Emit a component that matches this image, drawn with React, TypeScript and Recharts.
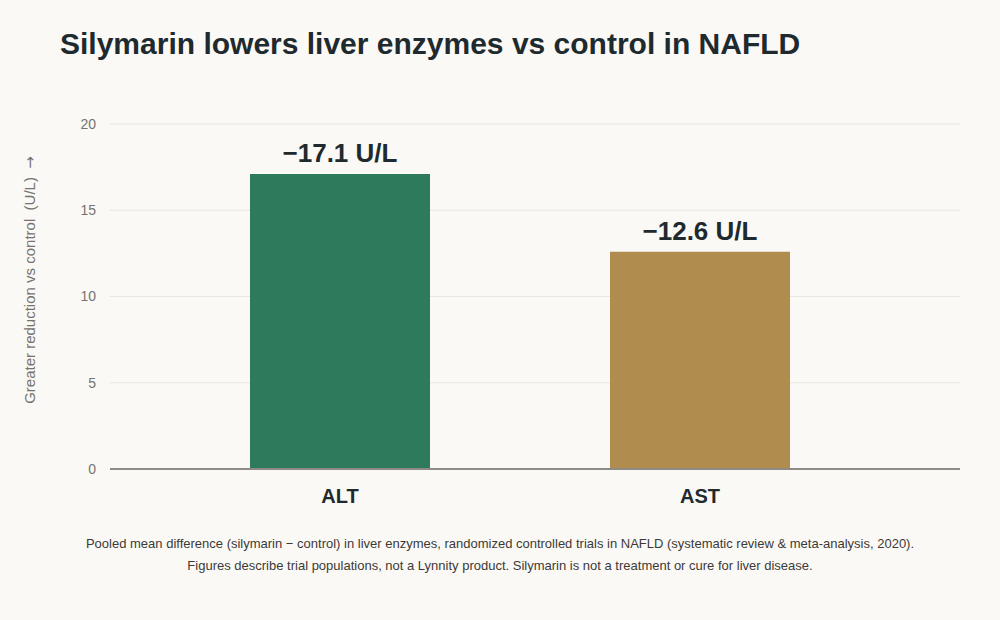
import React from 'react';
import { BarChart, Bar, XAxis, YAxis, CartesianGrid, Cell, LabelList } from 'recharts';

const enzymes = ['ALT', 'AST'];
const reductions = [17.1, 12.6];
const barColors = ['#2e7a5c', '#b08d4e'];
const yTicks = [0, 5, 10, 15, 20];

const chartData = enzymes.map((name, i) => ({ name, value: reductions[i] }));

const textDark = '#1f2a2e';
const tickGray = '#77736e';

const App: React.FC = () => {
  return (
    <div
      style={{
        position: 'fixed',
        top: 0,
        left: 0,
        width: 1000,
        height: 620,
        background: '#faf9f6',
        fontFamily: '"Liberation Sans", Arial, sans-serif',
      }}
    >
      <div
        style={{
          position: 'absolute',
          left: 60,
          top: 27,
          fontSize: 30,
          fontWeight: 700,
          color: textDark,
        }}
      >
        Silymarin lowers liver enzymes vs control in NAFLD
      </div>
      <div style={{ position: 'absolute', left: 0, top: 0 }}>
        <BarChart
          width={1000}
          height={620}
          data={chartData}
          margin={{ top: 124, right: 40, bottom: 121, left: 60 }}
        >
          <CartesianGrid vertical={false} stroke="#e9e6df" />
          <XAxis
            dataKey="name"
            padding={{ left: 50, right: 80 }}
            tickLine={false}
            axisLine={{ stroke: '#8f8a82', strokeWidth: 2 }}
            tick={{ fill: textDark, fontSize: 20, fontWeight: 700 }}
            dy={12}
          />
          <YAxis
            width={50}
            domain={[0, 20]}
            ticks={yTicks}
            tickLine={false}
            axisLine={false}
            tick={{ fill: tickGray, fontSize: 14 }}
            dx={-6}
          />
          <Bar dataKey="value" barSize={180} isAnimationActive={false}>
            {chartData.map((d, i) => (
              <Cell key={d.name} fill={barColors[i]} />
            ))}
            <LabelList
              dataKey="value"
              position="top"
              offset={12}
              formatter={(v: any) => `\u2212${v} U/L`}
              style={{ fill: textDark, fontSize: 26, fontWeight: 700 }}
            />
          </Bar>
        </BarChart>
      </div>
      <div
        style={{
          position: 'absolute',
          left: 30,
          top: 280,
          transform: 'translate(-50%, -50%) rotate(-90deg)',
          whiteSpace: 'nowrap',
          fontSize: 15,
          color: tickGray,
        }}
      >
        Greater reduction vs control&nbsp; (U/L) &nbsp;<span style={{ fontFamily: '"DejaVu Sans", sans-serif', fontSize: 15 }}>→</span>
      </div>
      <div
        style={{
          position: 'absolute',
          left: 0,
          width: 1000,
          top: 533,
          textAlign: 'center',
          fontSize: 13,
          lineHeight: '22px',
          color: '#3d3a36',
        }}
      >
        Pooled mean difference (silymarin − control) in liver enzymes, randomized controlled trials in NAFLD (systematic review &amp; meta-analysis, 2020).
        <br />
        Figures describe trial populations, not a Lynnity product. Silymarin is not a treatment or cure for liver disease.
      </div>
    </div>
  );
};

export default App;
